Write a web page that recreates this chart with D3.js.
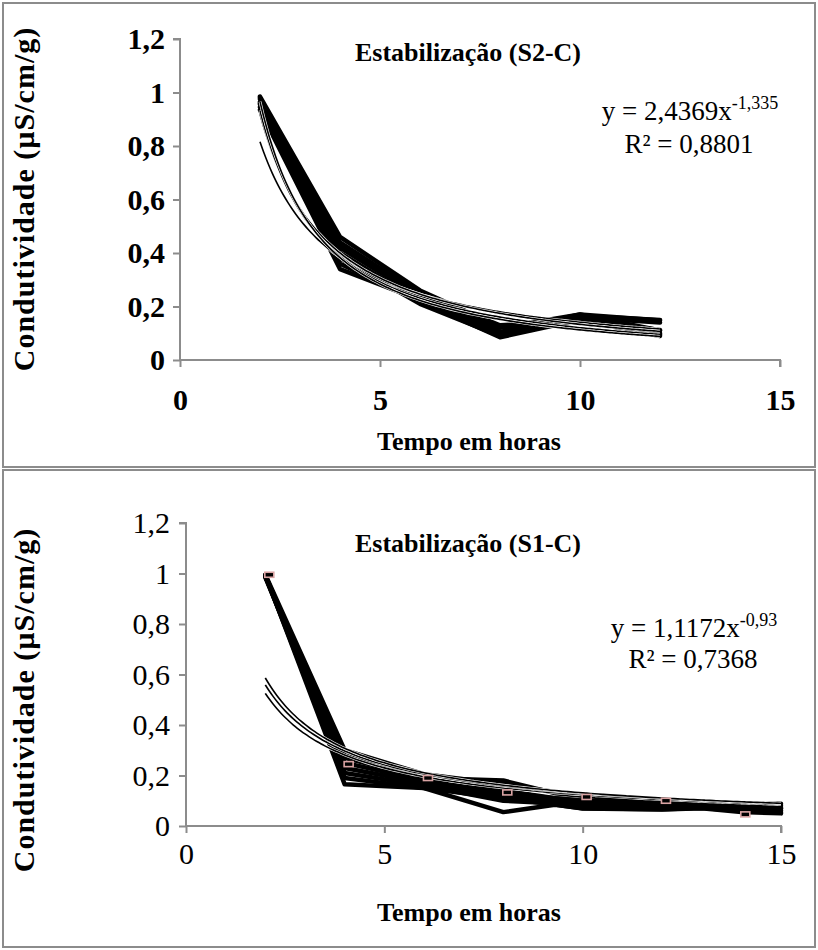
<!DOCTYPE html>
<html>
<head>
<meta charset="utf-8">
<script src="https://cdn.jsdelivr.net/npm/d3@7"></script>
<style>
  html, body { margin: 0; padding: 0; background: #fff; }
  svg { display: block; }
  svg text { font-family: "Liberation Serif", "Times New Roman", Times, "DejaVu Serif", serif; fill: #000; }
</style>
</head>
<body>
<svg id="chart" width="818" height="950"></svg>
<script>
// ---------------- DATA ----------------
const yTickValues = [0, 0.2, 0.4, 0.6, 0.8, 1, 1.2];
const yTickLabels = ["0", "0,2", "0,4", "0,6", "0,8", "1", "1,2"];
const xTickValues = [0, 5, 10, 15];
const xTickLabels = ["0", "5", "10", "15"];

// Top chart: Estabilização (S2-C)
const topTitle = "Estabilização (S2-C)";
const topX = [2, 4, 6, 8, 10, 12];
const topS1 = [0.985, 0.46, 0.26, 0.125, 0.165, 0.15];
const topS2 = [0.975, 0.44, 0.245, 0.105, 0.17, 0.148];
const topS3 = [0.965, 0.42, 0.235, 0.09, 0.16, 0.14];
const topS4 = [0.955, 0.40, 0.22, 0.085, 0.15, 0.112];
const topS5 = [0.945, 0.38, 0.21, 0.09, 0.16, 0.10];
const topS6 = [0.935, 0.34, 0.225, 0.10, 0.15, 0.09];
const topS7 = [0.98, 0.36, 0.22, 0.12, 0.17, 0.11];
const topS8 = [0.96, 0.43, 0.25, 0.13, 0.145, 0.095];
const topTrendA = [1.737, 2.113, 2.25, 2.4369];
const topTrendB = [-1.09, -1.2, -1.27, -1.335];
const topEq = ["y = 2,4369x", "-1,335", "R² = 0,8801"];

// Bottom chart: Estabilização (S1-C)
const botTitle = "Estabilização (S1-C)";
const botX = [2, 4, 6, 8, 9.3, 10, 12, 13, 14, 15];
const botS1 = [0.995, 0.30, 0.205, 0.165, 0.135, 0.125, 0.10, 0.095, 0.09, 0.088];
const botS2 = [0.99, 0.27, 0.19, 0.18, 0.13, 0.12, 0.095, 0.09, 0.085, 0.082];
const botS3 = [0.99, 0.25, 0.18, 0.14, 0.11, 0.10, 0.09, 0.085, 0.08, 0.075];
const botS4 = [0.985, 0.23, 0.17, 0.12, 0.10, 0.09, 0.08, 0.08, 0.075, 0.07];
const botS5 = [0.99, 0.21, 0.16, 0.10, 0.09, 0.08, 0.075, 0.075, 0.065, 0.062];
const botS6 = [0.99, 0.19, 0.15, 0.055, 0.084, 0.07, 0.066, 0.071, 0.06, 0.055];
const botS7 = [0.995, 0.165, 0.15, 0.11, 0.085, 0.069, 0.065, 0.07, 0.055, 0.05];
const botS8 = [0.99, 0.28, 0.18, 0.13, 0.11, 0.10, 0.085, 0.08, 0.07, 0.068];
const botTrendA = [0.98, 1.05, 1.1172];
const botTrendB = [-0.90, -0.91, -0.93];
const botMarkerX = [2.1, 4.1, 6.1, 8.1, 10.1, 12.1, 14.1];
const botMarkerY = [0.995, 0.245, 0.19, 0.133, 0.115, 0.10, 0.046];
const botEq = ["y = 1,1172x", "-0,93", "R² = 0,7368"];

const xTitle = "Tempo em horas";
const yTitle = "Condutividade (µS/cm/g)";

// ---------------- DRAW ----------------
const svg = d3.select("#chart");
const AXIS = "#8c8c8c";

function drawChart(cfg) {
  const g = svg.append("g");
  g.append("rect")
    .attr("x", cfg.frame[0]).attr("y", cfg.frame[1])
    .attr("width", cfg.frame[2]).attr("height", cfg.frame[3])
    .attr("fill", "none").attr("stroke", AXIS).attr("stroke-width", 2);

  const x = d3.scaleLinear().domain([0, 15]).range([cfg.left, cfg.right]);
  const y = d3.scaleLinear().domain([0, 1.2]).range([cfg.bottom, cfg.top]);

  const yAxis = d3.axisLeft(y).tickValues(yTickValues)
    .tickFormat((d, i) => yTickLabels[i]).tickSize(7).tickPadding(cfg.yPad);
  const xAxis = d3.axisBottom(x).tickValues(xTickValues)
    .tickFormat((d, i) => xTickLabels[i]).tickSize(7).tickPadding(cfg.xPad);

  const ya = g.append("g").attr("transform", `translate(${cfg.left},0)`).call(yAxis);
  const xa = g.append("g").attr("transform", `translate(0,${cfg.bottom})`).call(xAxis);
  [ya, xa].forEach(a => {
    a.attr("font-family", null);
    a.select(".domain").attr("stroke", AXIS).attr("stroke-width", 2);
    a.selectAll(".tick line").attr("stroke", AXIS).attr("stroke-width", 2);
    a.selectAll(".tick text")
      .attr("font-size", cfg.tickSize)
      .attr("font-weight", cfg.tickWeight)
      .attr("fill", "#000");
  });
  ya.select(".domain").attr("d", `M-7,${cfg.top}H0V${cfg.bottom}`);
  xa.select(".domain").attr("d", `M${cfg.left},0H${cfg.right}V7`);

  const clipId = "clip" + cfg.id;
  svg.append("clipPath").attr("id", clipId).append("rect")
    .attr("x", cfg.left - 10).attr("y", cfg.top - 10)
    .attr("width", cfg.right - cfg.left + 20).attr("height", cfg.bottom - cfg.top + 10);
  const plot = g.append("g").attr("clip-path", `url(#${clipId})`);

  const line = d3.line().x(d => x(d[0])).y(d => y(d[1]));
  cfg.series.forEach(s => {
    plot.append("path")
      .datum(cfg.xs.map((xv, i) => [xv, s[i]]))
      .attr("d", line)
      .attr("fill", "none").attr("stroke", "#000")
      .attr("stroke-width", 4.5)
      .attr("stroke-linejoin", "round").attr("stroke-linecap", "round");
  });

  const curve = d3.line().x(d => x(d[0])).y(d => y(d[1])).curve(d3.curveMonotoneX);
  cfg.trendA.forEach((a, i) => {
    const b = cfg.trendB[i];
    const pts = d3.range(cfg.trendFrom, cfg.trendTo + 0.001, 0.1).map(xv => [xv, a * Math.pow(xv, b)]);
    plot.append("path").datum(pts).attr("d", curve)
      .attr("fill", "none").attr("stroke", "#fff").attr("stroke-width", 2.8);
    plot.append("path").datum(pts).attr("d", curve)
      .attr("fill", "none").attr("stroke", "#000").attr("stroke-width", 1.6);
  });

  if (cfg.markerX) {
    cfg.markerX.forEach((mx, i) => {
      const cx = x(mx), cy = y(cfg.markerY[i]);
      plot.append("rect").attr("x", cx - 4.5).attr("y", cy - 2.5)
        .attr("width", 9).attr("height", 5)
        .attr("fill", "#000").attr("stroke", "#d9a3a3").attr("stroke-width", 1.6);
    });
  }

  g.append("text").attr("x", cfg.titleX).attr("y", cfg.titleY)
    .attr("text-anchor", "middle").attr("font-weight", "bold")
    .attr("font-size", 26).text(cfg.title);

  const eq = g.append("text").attr("x", cfg.eqX).attr("y", cfg.eqY)
    .attr("text-anchor", "middle").attr("font-size", 27);
  eq.append("tspan").text(cfg.eq[0]);
  eq.append("tspan").attr("font-size", 18).attr("dy", -11).text(cfg.eq[1]);
  g.append("text").attr("x", cfg.eqX - 1).attr("y", cfg.eqY + cfg.eqGap)
    .attr("text-anchor", "middle").attr("font-size", 27).text(cfg.eq[2]);

  g.append("text").attr("x", cfg.xTitleX).attr("y", cfg.xTitleY)
    .attr("text-anchor", "middle").attr("font-weight", "bold")
    .attr("font-size", 26).text(xTitle);
  g.append("text")
    .attr("transform", `translate(${cfg.yTitleX},${cfg.yTitleCY}) rotate(-90)`)
    .attr("text-anchor", "middle").attr("font-weight", "bold")
    .attr("font-size", 30).attr("letter-spacing", 1)
    .text(yTitle);
}

drawChart({
  id: "top", frame: [3, 3, 812, 464],
  left: 180, right: 780, top: 39, bottom: 360,
  tickSize: 30, tickWeight: "bold", yPad: 8, xPad: 22,
  xs: topX, series: [topS1, topS2, topS3, topS4, topS5, topS6, topS7, topS8],
  trendA: topTrendA, trendB: topTrendB, trendFrom: 2, trendTo: 12,
  title: topTitle, titleX: 468, titleY: 61,
  eq: topEq, eqX: 690, eqY: 120, eqGap: 33,
  xTitleX: 469, xTitleY: 450, yTitleX: 34, yTitleCY: 199
});

drawChart({
  id: "bot", frame: [3, 470, 812, 477],
  left: 186, right: 781, top: 523, bottom: 826,
  tickSize: 30, tickWeight: "normal", yPad: 9, xPad: 10,
  xs: botX, series: [botS1, botS2, botS3, botS4, botS5, botS6, botS7, botS8],
  trendA: botTrendA, trendB: botTrendB, trendFrom: 2, trendTo: 15,
  markerX: botMarkerX, markerY: botMarkerY,
  title: botTitle, titleX: 468, titleY: 552,
  eq: botEq, eqX: 694, eqY: 637, eqGap: 31,
  xTitleX: 469, xTitleY: 921, yTitleX: 34, yTitleCY: 700
});
</script>
</body>
</html>
